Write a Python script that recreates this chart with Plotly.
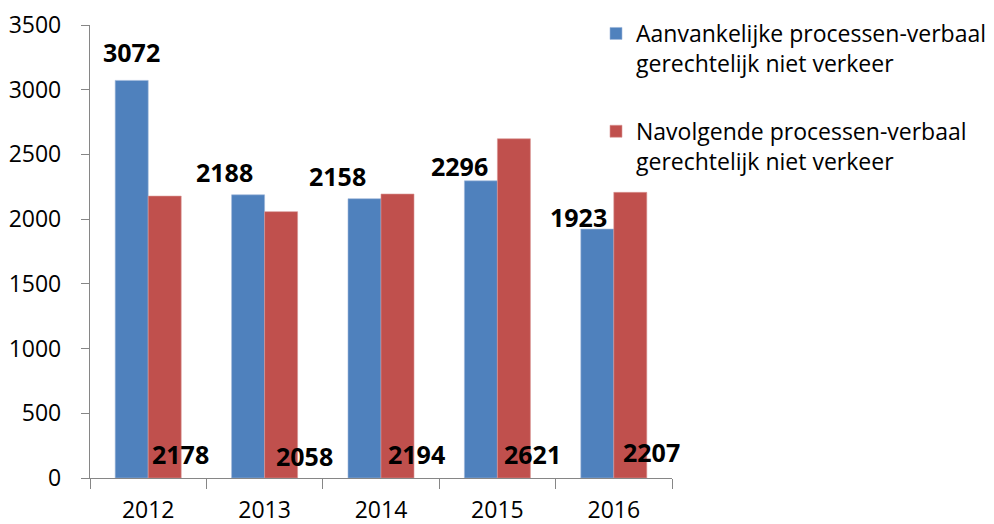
import plotly.graph_objects as go

years = ["2012", "2013", "2014", "2015", "2016"]
aanvankelijk = [3072, 2188, 2158, 2296, 1923]
navolgende = [2178, 2058, 2194, 2621, 2207]
series_names = [
    "Aanvankelijke processen-verbaal<br>gerechtelijk niet verkeer",
    "Navolgende processen-verbaal<br>gerechtelijk niet verkeer",
]
y_ticks = [0, 500, 1000, 1500, 2000, 2500, 3000, 3500]

BLUE = "#4F81BD"
RED = "#C0504D"
FONT = "Open Sans, Calibri, Arial, sans-serif"

# label placement (pixels) — manual placement as in the original
blue_dx = [-17, -40, -44, -38, -35]
blue_dy = [28, 23, 23, 15, 12]
red_dx = [32, 40, 35, 35, 38]
red_dy = [24, 22, 24, 24, 26]

W, H = 986, 516  # page body has an 8px default margin

fig = go.Figure()
fig.add_trace(go.Bar(x=years, y=aanvankelijk, name=series_names[0], legendgroup="a",
                     marker=dict(color=BLUE, line=dict(color="#9DB7DA", width=0.6))))
fig.add_trace(go.Bar(x=years, y=navolgende, name=series_names[1], legendgroup="b",
                     marker=dict(color=RED, line=dict(color="#D99593", width=0.6))))

# category axis: annotation x given as category index of each year
for i, yr in enumerate(years):
    fig.add_annotation(x=i, y=aanvankelijk[i], xref="x", yref="y",
                       text=f"<b>{aanvankelijk[i]}</b>",
                       showarrow=False, xanchor="center", yanchor="middle",
                       xshift=blue_dx[i], yshift=blue_dy[i],
                       font=dict(family=FONT, size=25, color="black"))
    fig.add_annotation(x=i, y=0, xref="x", yref="y",
                       text=f"<b>{navolgende[i]}</b>",
                       showarrow=False, xanchor="center", yanchor="middle",
                       xshift=red_dx[i], yshift=red_dy[i],
                       font=dict(family=FONT, size=25, color="black"))

fig.update_layout(
    width=W, height=H,
    margin=dict(l=82, r=322, t=17, b=46, autoexpand=False),
    paper_bgcolor="white", plot_bgcolor="white",
    barmode="group", bargap=0.433, bargroupgap=0,
    font=dict(family=FONT, size=21, color="black"),
    showlegend=True,
    legend=dict(x=588 / W, xanchor="left", y=1 - 4 / H, yanchor="top",
                xref="container", yref="container",
                font=dict(family=FONT, size=23, color="black"),
                traceorder="grouped", tracegroupgap=35, valign="top",
                itemwidth=30, bgcolor="rgba(0,0,0,0)"),
)

fig.update_xaxes(type="category", categoryorder="array", categoryarray=years,
                 range=[-0.5, len(years) - 0.5], automargin=False,
                 showline=True, linecolor="#868686", linewidth=1.3,
                 ticks="outside", ticklen=10, tickcolor="#868686", tickwidth=1.3,
                 tickson="boundaries", showgrid=False, zeroline=False,
                 ticklabelstandoff=11,
                 tickfont=dict(family=FONT, size=23, color="black"))
fig.update_yaxes(range=[0, 3500], tickvals=y_ticks, showline=True, automargin=False,
                 linecolor="#868686", linewidth=1.3,
                 ticks="outside", ticklen=8, tickcolor="#868686", tickwidth=1.3,
                 showgrid=False, zeroline=False, ticklabelstandoff=15,
                 tickfont=dict(family=FONT, size=23, color="black"))

fig.write_html("out.html")
